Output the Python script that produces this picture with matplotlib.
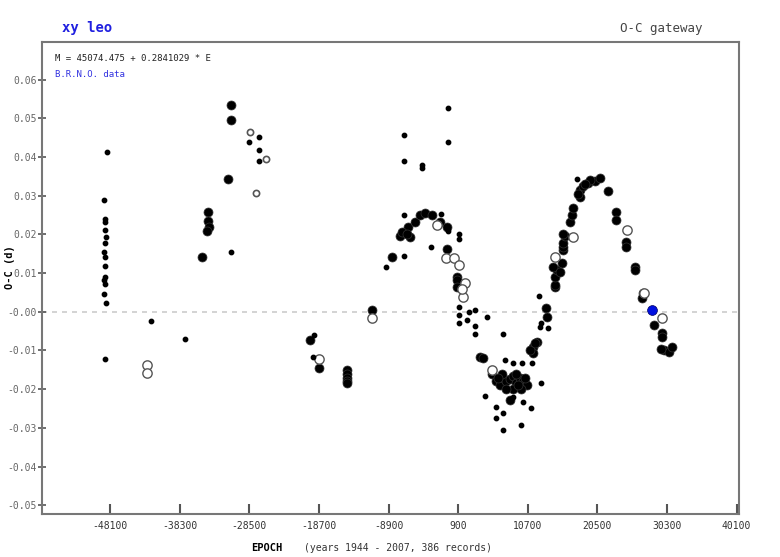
"""O-C diagram for XY Leo (O-C gateway style)
"""
import numpy as np
import matplotlib
matplotlib.use('Agg')
import matplotlib.pyplot as plt

# small filled dots (visual timings)
dot_epoch = [-48500, -48950, -48850, -48750, -48800, -48700, -48850, -48900,
             -48800, -48750, -48850, -48900, -48800, -48900, -48700, -48850,
             -42335, -37555, -31087, -27151, -27151, -27151, -28557,
             -6764, -6764, -4233, -4233, -577, -577, -19417, -19558,
             -9294, -6764, -6764, -1561, -2967, -577, 969, 969,
             969, 969, 969, 2094, 2375, 3219, 3219, 3219, 4906, 7156,
             4625, 6172, 6172, 7156, 7156, 9687, 11093, 9968, 12499,
             11233, 9827, 8562, 7437, 8562, 12358, 13483, 12499, 12218, 17560]
dot_oc = [0.0414, 0.0288, 0.0241, 0.0231, 0.0212, 0.0194, 0.0179, 0.0155,
          0.0142, 0.0119, 0.0091, 0.0083, 0.0073, 0.0047, 0.0023, -0.0122,
          -0.0023, -0.0070, 0.0155, 0.0453, 0.0417, 0.0391, 0.0438,
          0.0456, 0.0389, 0.0380, 0.0372, 0.0526, 0.0438, -0.0060, -0.0117,
          0.0117, 0.0145, 0.0251, 0.0254, 0.0168, 0.0210, 0.0200, 0.0187,
          0.0013, -0.0008, -0.0028, -0.0021, 0.0000, 0.0005, -0.0036, -0.0057, -0.0013, -0.0057,
          -0.0218, -0.0246, -0.0275, -0.0262, -0.0306, -0.0293, -0.0249, -0.0233, -0.0184,
          -0.0132, -0.0132, -0.0132, -0.0124, -0.0220, -0.0039, -0.0041, -0.0028, 0.0041, 0.0342]

# large filled circles (photoelectric / CCD)
big_epoch = [-35165, -34322, -34322, -34200, -34450, -31509, -31087, -31087,
             -19980, -18715, -14778, -14778, -14778, -14778, -14778,
             -11262, -8451, -7326, -6623, -5920, -6201, -5217, -4514, -3811,
             -2827, -1702, -718, -7000, -6300, -718, 688, 688, 688,
             3922, 4344, 5609, 6172, 6734, 7156, 7578, 8140, 8562, 8984, 9546,
             9968, 10530, 8140, 8562, 7600, 9000, 9800, 10250, 7000, 6500, 9300,
             11374, 11936, 11374, 10952, 11655, 13202, 13342, 14467, 14467, 14467,
             14748, 14186, 15451, 15170, 15592, 15592, 15592, 15873, 15592, 16576,
             16857, 16998, 17982, 17982, 19107, 20091, 20794, 21919, 18404, 19500,
             18800, 17700, 23184, 23184, 24590, 24590, 25856, 25856, 26980, 26840,
             28527, 29652, 29652, 29933, 30636, 31058, 29511]
big_oc = [0.0142, 0.0259, 0.0235, 0.0220, 0.0210, 0.0342, 0.0534, 0.0497,
          -0.0073, -0.0145, -0.0150, -0.0160, -0.0170, -0.0180, -0.0185,
          0.0005, 0.0142, 0.0197, 0.0207, 0.0194, 0.0218, 0.0233, 0.0251, 0.0256,
          0.0251, 0.0233, 0.0220, 0.0205, 0.0200, 0.0163, 0.0091, 0.0083, 0.0065,
          -0.0117, -0.0120, -0.0160, -0.0180, -0.0190, -0.0170, -0.0180, -0.0175, -0.0165, -0.0185, -0.0170,
          -0.0180, -0.0190, -0.0228, -0.0200, -0.0200, -0.0160, -0.0200, -0.0170, -0.0160, -0.0172, -0.0190,
          -0.0091, -0.0078, -0.0106, -0.0098, -0.0080, 0.0010, -0.0013, 0.0065, 0.0070, 0.0091,
          0.0109, 0.0117, 0.0127, 0.0104, 0.0161, 0.0168, 0.0179, 0.0197, 0.0200, 0.0233,
          0.0251, 0.0269, 0.0298, 0.0316, 0.0334, 0.0337, 0.0347, 0.0313, 0.0324, 0.0340,
          0.0330, 0.0305, 0.0259, 0.0238, 0.0181, 0.0168, 0.0117, 0.0109, 0.0049, 0.0036,
          -0.0034, -0.0054, -0.0065, -0.0098, -0.0104, -0.0091, -0.0096]

# open circles
open_epoch = [-42898, -42898, -18715, -11262, -2124, -858, 266, 1813, 1532,
              1000, 1400, 5609, 14467, 16998, 24731, 27121, 29652]
open_oc = [-0.0137, -0.0158, -0.0122, -0.0016, 0.0225, 0.0140, 0.0140, 0.0075, 0.0039,
           0.0120, 0.0060, -0.0150, 0.0142, 0.0194, 0.0212, 0.0049, -0.0016]
small_open_epoch = [-28416, -26166, -27572]
small_open_oc = [0.0466, 0.0396, 0.0306]

# B.R.N.O. data
brno_epoch = [28246]
brno_oc = [0.0005]

xticks = [-48100, -38300, -28500, -18700, -8900, 900, 10700, 20500, 30300, 40100]
yticks = [0.06, 0.05, 0.04, 0.03, 0.02, 0.01, 0.0, -0.01, -0.02, -0.03, -0.04, -0.05]
ytick_labels = ['0.06', '0.05', '0.04', '0.03', '0.02', '0.01', '-0.00',
                '-0.01', '-0.02', '-0.03', '-0.04', '-0.05']

mono = 'DejaVu Sans Mono'
fig = plt.figure(figsize=(7.8, 5.57), dpi=100)
ax = fig.add_axes([0.054, 0.077, 0.893, 0.848])

ax.axhline(0, color='#cccccc', lw=1.2, ls=(0, (3, 3)), zorder=0)
ax.scatter(big_epoch, big_oc, s=42, c='black', edgecolors='#333333', linewidths=0.5, zorder=2)
ax.scatter(dot_epoch, dot_oc, s=10, c='black', zorder=3)
ax.scatter(open_epoch, open_oc, s=45, facecolors='white', edgecolors='#555555', linewidths=1.0, zorder=2)
ax.scatter(small_open_epoch, small_open_oc, s=20, facecolors='white', edgecolors='#555555',
           linewidths=1.2, zorder=2)
ax.scatter(brno_epoch, brno_oc, s=50, c='#0010e0', edgecolors='#000060', linewidths=0.5, zorder=4)

ax.set_xlim(-57660, 40380)
ax.set_ylim(-0.0523, 0.0698)
ax.set_xticks(xticks)
ax.set_yticks(yticks)
ax.tick_params(axis='x', direction='in', length=7, width=1.5, color='#555555',
               pad=5, labelsize=7, labelcolor='#333333')
ax.tick_params(axis='y', direction='inout', length=6, width=1.2, color='#555555',
               pad=1, labelsize=7, labelcolor='#666666')
ax.set_xticklabels([str(t) for t in xticks], family=mono)
ax.set_yticklabels(ytick_labels, family=mono)
for s in ax.spines.values():
    s.set_color('#777777')
    s.set_linewidth(1.5)

fig.text(0.08, 0.942, 'xy leo', color='#2020e0', fontsize=10, fontweight='bold', family=mono)
fig.text(0.795, 0.942, 'O-C gateway', color='#444444', fontsize=9, family=mono)
ax.text(0.018, 0.975, 'M = 45074.475 + 0.2841029 * E', transform=ax.transAxes,
        fontsize=6.5, family=mono, va='top', color='#222222')
ax.text(0.018, 0.94, 'B.R.N.O. data', transform=ax.transAxes,
        fontsize=6.5, family=mono, va='top', color='#3030e0')
fig.text(0.322, 0.01, 'EPOCH', fontsize=7.5, fontweight='bold', family=mono)
fig.text(0.39, 0.01, '(years 1944 - 2007, 386 records)', fontsize=7, family=mono, color='#333333')
fig.text(0.006, 0.52, 'O-C (d)', rotation=90, fontsize=7.5, fontweight='bold', family=mono,
         va='center')

fig.savefig('out.png', dpi=100)
